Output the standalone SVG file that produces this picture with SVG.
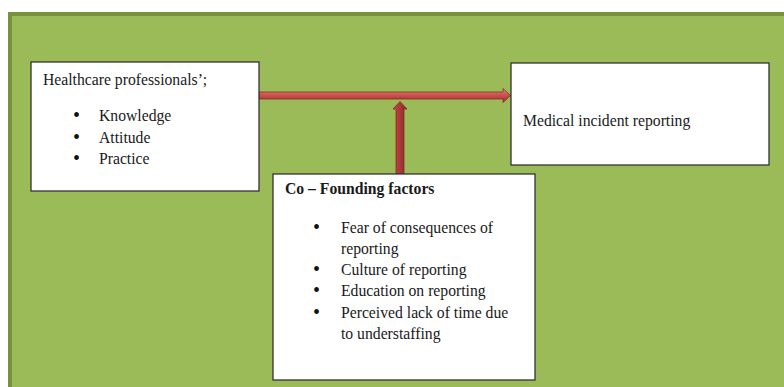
<svg xmlns="http://www.w3.org/2000/svg" width="784" height="387" viewBox="0 0 784 387">
<defs>
<style>
.box{fill:#fff;stroke:#333;stroke-width:1.3}
.t{font-family:"Liberation Serif","Times New Roman",serif;font-size:15.7px;fill:#1a1a1a}
.bl{font-family:"Liberation Serif","Times New Roman",serif;font-size:20px;fill:#111}
.b{font-weight:bold}
.arrow{stroke:#8c2a28;stroke-width:0.8}
</style>
<linearGradient id="gh" x1="0" y1="0" x2="0" y2="1">
<stop offset="0" stop-color="#e8807c"/>
<stop offset="0.5" stop-color="#c9504c"/>
<stop offset="1" stop-color="#9a2e2b"/>
</linearGradient>
<linearGradient id="gv" x1="0" y1="0" x2="1" y2="0">
<stop offset="0" stop-color="#c24a46"/>
<stop offset="0.5" stop-color="#a83a37"/>
<stop offset="1" stop-color="#7e2523"/>
</linearGradient>
</defs>
<rect x="0" y="0" width="784" height="387" fill="#fff"/>
<rect x="8" y="12" width="776" height="375" fill="#76923c"/>
<rect x="12" y="16" width="772" height="371" fill="#9bbb59"/>

<g id="connectors">
<path class="arrow" fill="url(#gh)" d="M259,92 L503,92 L503,88.5 L510.5,95.5 L503,102.5 L503,99 L259,99 Z"/>
<path class="arrow" fill="url(#gv)" d="M396,174 L396,109 L393,109 L400,101.5 L407,109 L404,109 L404,174 Z"/>
</g>

<g id="node-professionals">
<rect class="box" x="31" y="62" width="228" height="129"/>
<text class="t" x="43" y="85">Healthcare professionals’;</text>
<text class="bl" x="73" y="122">•</text><text class="t" x="99" y="121">Knowledge</text>
<text class="bl" x="73" y="143.5">•</text><text class="t" x="99" y="142.5">Attitude</text>
<text class="bl" x="73" y="165">•</text><text class="t" x="99" y="164">Practice</text>
</g>

<g id="node-reporting">
<rect class="box" x="511" y="63" width="258" height="102"/>
<text class="t" x="523" y="126">Medical incident reporting</text>
</g>

<g id="node-factors">
<rect class="box" x="273" y="174" width="262" height="206"/>
<text class="t b" x="285" y="194">Co – Founding factors</text>
<text class="bl" x="313" y="233.5">•</text><text class="t" x="341" y="232.5">Fear of consequences of</text>
<text class="t" x="341" y="253.5">reporting</text>
<text class="bl" x="313" y="275.5">•</text><text class="t" x="341" y="274.5">Culture of reporting</text>
<text class="bl" x="313" y="297">•</text><text class="t" x="341" y="296">Education on reporting</text>
<text class="bl" x="313" y="318.5">•</text><text class="t" x="341" y="317.5">Perceived lack of time due</text>
<text class="t" x="341" y="338.5">to understaffing</text>
</g>
</svg>
